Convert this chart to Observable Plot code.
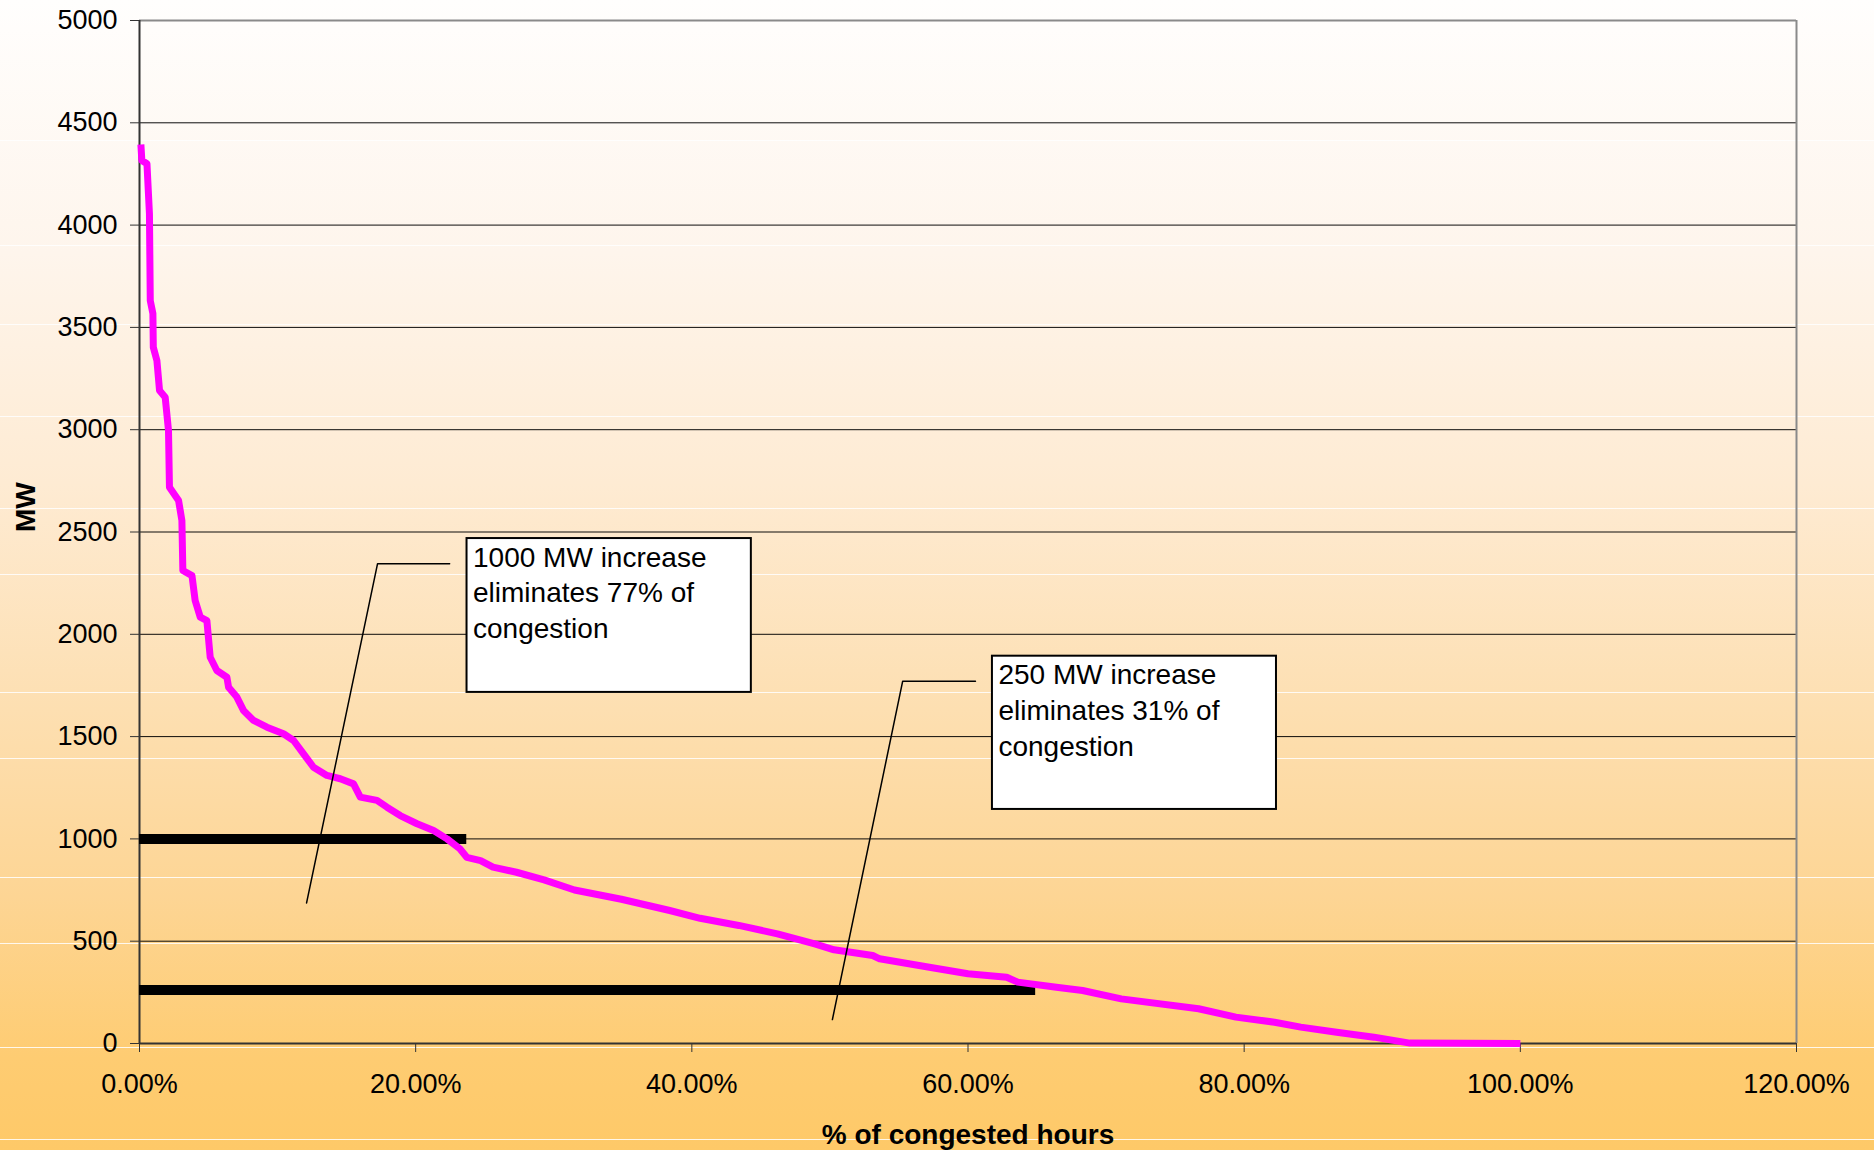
<!DOCTYPE html>
<html>
<head>
<meta charset="utf-8">
<script src="https://cdn.jsdelivr.net/npm/d3@7"></script>
<script src="https://cdn.jsdelivr.net/npm/@observablehq/plot@0.6"></script>
<style>
  html, body { margin: 0; padding: 0; }
  #chart {
    width: 1874px; height: 1150px; position: relative; overflow: hidden;
    font-family: "Liberation Sans", Arial, sans-serif;
  }
  #chart svg { display: block; }
</style>
</head>
<body>
<div id="chart"></div>
<script>
// ---- Data ----
// Load duration curve: % of congested hours vs MW
const pctHours = [0.1, 0.17, 0.54, 0.72, 0.78, 0.97, 1.0, 1.26, 1.45, 1.86, 2.1, 2.17, 2.83, 3.07, 3.14, 3.8, 4.03, 4.4,
  4.88, 5.12, 5.6, 6.33, 6.45, 7.05, 7.53, 8.26, 9.23, 10.43, 11.16, 11.88, 12.6, 13.57, 14.54, 15.5, 15.99, 17.2,
  17.92, 18.88, 20.1, 21.3, 22.27, 23.2, 23.7, 24.7, 25.6, 27.3, 29.3, 31.5, 34.9, 38.4, 40.6, 43.4, 46.2, 48.9,
  50.3, 53.1, 53.6, 57.2, 60.0, 62.8, 63.6, 66.4, 68.3, 71.1, 76.7, 79.4, 82.2, 84.1, 86.7, 89.4, 92.0, 100.0];
const mwValues = [4394, 4316, 4300, 4055, 3631, 3568, 3403, 3338, 3192, 3159, 2996, 2719, 2654, 2556, 2312, 2287, 2165, 2084,
  2067, 1888, 1823, 1790, 1741, 1693, 1628, 1579, 1546, 1514, 1481, 1416, 1350, 1310, 1294, 1269, 1204, 1188,
  1155, 1114, 1074, 1041, 1000, 952, 910, 894, 862, 837, 800, 750, 705, 650, 612, 577, 536, 487,
  458, 430, 414, 373, 341, 324, 300, 275, 259, 218, 170, 129, 104, 80, 55, 31, 2, 0];

// Capacity-increase bars (MW level, extent in % of hours)
const barLevels = [1000, 262];
const barEnds = [23.7, 64.9];

// Annotation boxes (data units)
const noteTexts = ["1000 MW increase\neliminates 77% of\ncongestion", "250 MW increase\neliminates 31% of\ncongestion"];
const noteX1 = [23.72, 61.77];
const noteX2 = [44.31, 82.34];
const noteY1 = [1716, 1144];
const noteY2 = [2468, 1893];
// Leader lines (data units): bottom end, corner, end near box
const leaderX = [[12.1, 17.24, 22.46], [50.18, 55.27, 60.54]];
const leaderY = [[687, 2345, 2345], [117, 1771, 1771]];

// Axes
const xTicks = [0, 20, 40, 60, 80, 100, 120];
const yTicks = [0, 500, 1000, 1500, 2000, 2500, 3000, 3500, 4000, 4500, 5000];
const xTitle = "% of congested hours";
const yTitle = "MW";

// ---- Build tables ----
const curve = pctHours.map((x, i) => ({x, y: mwValues[i]}));
const bars = barLevels.map((level, i) => ({level, end: barEnds[i]}));
const notes = noteTexts.map((text, i) => ({text, x1: noteX1[i], x2: noteX2[i], y1: noteY1[i], y2: noteY2[i]}));
const leaders = leaderX.flatMap((xs, id) => xs.map((x, j) => ({id, x, y: leaderY[id][j]})));

// ---- Background (gradient with faint banding lines) ----
const bandLines = [140, 245, 324, 416, 508, 574, 692, 758, 877, 943, 1047, 1139];
const lineStops = bandLines.map(y =>
  `transparent ${y}px, rgba(255,255,255,0.85) ${y}px, rgba(255,255,255,0.85) ${y + 1}px, transparent ${y + 1}px`).join(", ");
const chartDiv = document.getElementById("chart");
chartDiv.style.background =
  `linear-gradient(to bottom, ${lineStops}), ` +
  `linear-gradient(to bottom, #FFFEFD 0%, #FEF5EC 22%, #FEEBD3 42%, #FDE0B4 60%, #FDD594 78%, #FECC72 92%, #FEC968 100%)`;

const fmtX = d => d.toFixed(2) + "%";
const fmtY = d => String(d);

const chart = Plot.plot({
  width: 1874,
  height: 1150,
  marginLeft: 139,
  marginRight: 78,
  marginTop: 20,
  marginBottom: 107,
  style: {background: "transparent", color: "#000", fontFamily: "'Liberation Sans', Arial, sans-serif", overflow: "visible"},
  x: {domain: [0, 120]},
  y: {domain: [0, 5000]},
  marks: [
    Plot.gridY(yTicks, {stroke: "#000", strokeOpacity: 0.95, strokeWidth: 1}),
    Plot.ruleY([5000], {stroke: "#8a8a8a", strokeWidth: 2}),
    Plot.ruleX([120], {stroke: "#8a8a8a", strokeWidth: 2}),
    Plot.axisY({ticks: yTicks, tickSize: 9, tickPadding: 13, fontSize: 27, label: null, tickFormat: fmtY, stroke: "#333"}),
    Plot.axisX({ticks: xTicks, tickSize: 9, tickPadding: 21, fontSize: 27, label: null, tickFormat: fmtX, stroke: "#333"}),
    Plot.ruleX([0], {stroke: "#333", strokeWidth: 2}),
    Plot.ruleY([0], {stroke: "#333", strokeWidth: 2}),
    Plot.ruleY(bars, {y: "level", x1: 0, x2: "end", stroke: "#000", strokeWidth: 10}),
    Plot.line(curve, {x: "x", y: "y", stroke: "#FF00FF", strokeWidth: 7, strokeLinejoin: "round", strokeLinecap: "butt"}),
    Plot.line(leaders, {x: "x", y: "y", z: "id", stroke: "#000", strokeWidth: 1.5}),
    Plot.rect(notes, {x1: "x1", x2: "x2", y1: "y1", y2: "y2", fill: "#fff", stroke: "#000", strokeWidth: 2}),
    Plot.text(notes, {x: "x1", y: "y2", text: "text", textAnchor: "start", lineAnchor: "top", dx: 6, dy: 3,
      fontSize: 28, lineHeight: 1.27, fill: "#000"}),
    Plot.text([yTitle], {frameAnchor: "left", dx: -113, rotate: -90, fontWeight: "bold", fontSize: 28, fill: "#000"}),
    Plot.text([xTitle], {frameAnchor: "bottom", dy: 100, lineAnchor: "bottom", fontWeight: "bold", fontSize: 28, fill: "#000"})
  ]
});
chartDiv.appendChild(chart);
</script>
</body>
</html>
